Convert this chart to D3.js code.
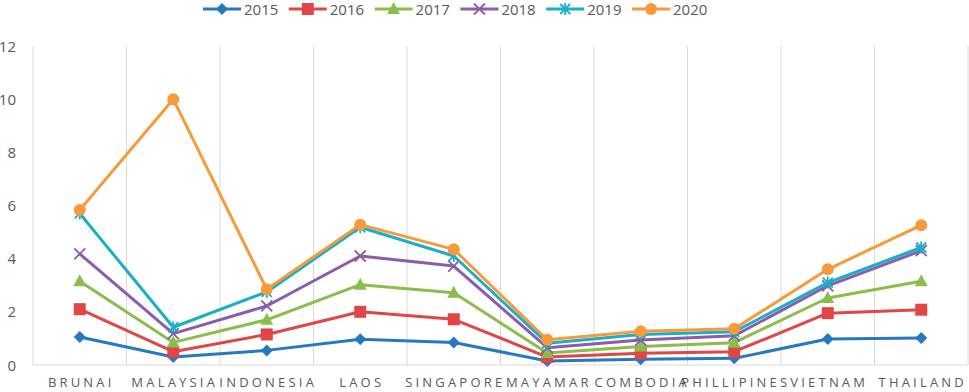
<!DOCTYPE html>
<html><head><meta charset="utf-8">
<script src="https://cdn.jsdelivr.net/npm/d3@7"></script>
<style>body{margin:0;background:#fff;} svg{display:block;font-family:"Open Sans",sans-serif;}</style>
</head><body>
<svg id="c" width="969" height="392"></svg>
<script>
const categories = ["BRUNAI","MALAYSIA","INDONESIA","LAOS","SINGAPORE","MAYAMAR","COMBODIA","PHILLIPINES","VIETNAM","THAILAND"];
const years = ["2015","2016","2017","2018","2019","2020"];
const v2015 = [1.05,0.3,0.55,0.97,0.85,0.15,0.22,0.25,0.98,1.02];
const v2016 = [2.1,0.5,1.15,2.0,1.72,0.3,0.44,0.5,1.95,2.08];
const v2017 = [3.15,0.85,1.7,3.02,2.72,0.45,0.7,0.84,2.52,3.15];
const v2018 = [4.18,1.18,2.22,4.1,3.72,0.65,0.94,1.1,2.98,4.3];
const v2019 = [5.7,1.42,2.75,5.18,4.1,0.82,1.15,1.25,3.1,4.42];
const v2020 = [5.83,10.0,2.85,5.28,4.35,0.95,1.27,1.36,3.6,5.26];
const yTicks = [0,2,4,6,8,10,12];
const series = [v2015,v2016,v2017,v2018,v2019,v2020];
const colors = ["#2679c1","#e04646","#8bbd4a","#8a5cab","#1aaec8","#f79a3a"];
const shapes = ["diamond","square","triangle","x","star","circle"];

(function(){
const svg = d3.select("#c");
const pL=33, pR=968, pT=46, pB=365;
const x = d3.scaleBand().domain(categories).range([pL,pR]);
const y = d3.scaleLinear().domain([0,12]).range([pB,pT]);

const bounds = categories.map(c=>x(c)).concat([pR]);
svg.append("g").selectAll("line").data(bounds).join("line")
  .attr("x1",d=>d).attr("x2",d=>d).attr("y1",pT).attr("y2",pB)
  .attr("stroke","#d9d9d9").attr("stroke-width",1);
svg.append("line").attr("x1",pL).attr("x2",pR).attr("y1",pB).attr("y2",pB)
  .attr("stroke","#d9d9d9").attr("stroke-width",1);

svg.append("g").selectAll("text").data(yTicks).join("text")
  .attr("x",16).attr("y",d=>y(d)+5.5).attr("text-anchor","end")
  .attr("font-size",15).attr("fill","#595959").text(d=>d);

svg.append("g").selectAll("text").data(categories).join("text")
  .attr("x",d=>x(d)+x.bandwidth()/2+1.5).attr("y",387).attr("text-anchor","middle")
  .attr("font-size",13).attr("letter-spacing","3.2px").attr("fill","#595959").text(d=>d);

function marker(g, shape, color, cx, cy){
  if(shape==="diamond"){
    g.append("path").attr("d",`M${cx},${cy-6}L${cx+6},${cy}L${cx},${cy+6}L${cx-6},${cy}Z`).attr("fill",color);
  } else if(shape==="square"){
    g.append("rect").attr("x",cx-6).attr("y",cy-6).attr("width",12).attr("height",12).attr("fill",color);
  } else if(shape==="triangle"){
    g.append("path").attr("d",`M${cx},${cy-7}L${cx+6.5},${cy+5}L${cx-6.5},${cy+5}Z`).attr("fill",color);
  } else if(shape==="x"){
    g.append("path").attr("d",`M${cx-5.5},${cy-5.5}L${cx+5.5},${cy+5.5}M${cx-5.5},${cy+5.5}L${cx+5.5},${cy-5.5}`).attr("stroke",color).attr("stroke-width",1.8);
  } else if(shape==="star"){
    g.append("path").attr("d",`M${cx-5},${cy-5}L${cx+5},${cy+5}M${cx-5},${cy+5}L${cx+5},${cy-5}M${cx},${cy-6}L${cx},${cy+6}`).attr("stroke",color).attr("stroke-width",1.8);
  } else {
    g.append("circle").attr("cx",cx).attr("cy",cy).attr("r",6).attr("fill",color);
  }
}

const line = d3.line().x((d,i)=>x(categories[i])+x.bandwidth()/2).y(d=>y(d));
series.forEach((s,k)=>{
  const g = svg.append("g");
  g.append("path").datum(s).attr("d",line).attr("fill","none").attr("stroke",colors[k]).attr("stroke-width",3).attr("stroke-linejoin","round");
  s.forEach((v,i)=>marker(g,shapes[k],colors[k],x(categories[i])+x.bandwidth()/2,y(v)));
});

const lg = svg.append("g");
years.forEach((yr,k)=>{
  const lx = 203 + k*85.8, ly = 9;
  lg.append("line").attr("x1",lx).attr("x2",lx+38).attr("y1",ly).attr("y2",ly).attr("stroke",colors[k]).attr("stroke-width",3);
  marker(lg,shapes[k],colors[k],lx+19,ly);
  lg.append("text").attr("x",lx+41).attr("y",ly+6).attr("font-size",15).attr("fill","#595959").text(yr);
});
})();
</script>
</body></html>
